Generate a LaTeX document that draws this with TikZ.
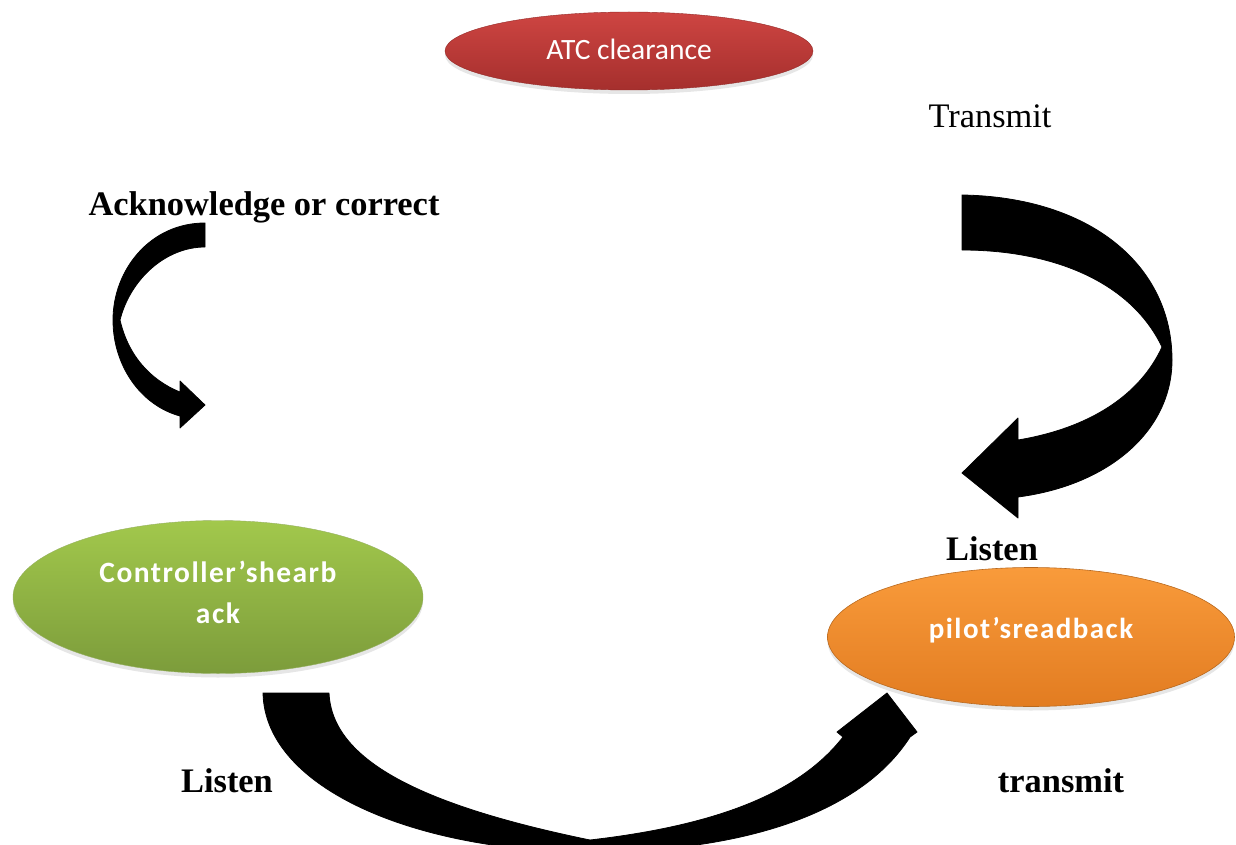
\documentclass[tikz,border=0pt]{standalone}
\usepackage{fontspec}
\setmainfont{Liberation Serif}
\newfontfamily\calib{Carlito}
\newfontfamily\calibsp[LetterSpace=5]{Carlito}
\usetikzlibrary{shapes.geometric,shadows}
\definecolor{redtop}{HTML}{CE4542}
\definecolor{redbot}{HTML}{A52F2D}
\definecolor{grntop}{HTML}{A2C84C}
\definecolor{grnbot}{HTML}{7C9C3B}
\definecolor{ortop}{HTML}{F99B3B}
\definecolor{orbot}{HTML}{E27C21}
\definecolor{orline}{HTML}{B8691F}
\begin{document}
\begin{tikzpicture}[x=1pt,y=-1pt,
  lbl/.style={font=\fontsize{34.4}{40}\selectfont\bfseries, inner sep=0, anchor=base},
  bub/.style={ellipse, inner sep=0, drop shadow={opacity=0.2, shadow xshift=0pt, shadow yshift=-4pt}},
  bubtxt/.style={text=white, inner sep=0, anchor=base, align=center},
  blk/.style={fill=black, draw=black, line width=0.8pt, line join=round}]
\useasboundingbox (0,0) rectangle (1236,845);

% ellipses
\node[bub, top color=redtop, bottom color=redbot, draw=redbot!90!black, line width=0.4pt,
      minimum width=368pt, minimum height=78pt] (atc) at (629,51) {};
\node[bubtxt, font=\calib\fontsize{29.5}{34}\selectfont] (atctxt) at (629,60) {ATC clearance};

\node[bub, top color=grntop, bottom color=grnbot, draw=grnbot!80!white, line width=0.4pt,
      minimum width=410pt, minimum height=153pt] (ctrl) at (218,597) {};
\node[bubtxt, font=\calibsp\bfseries\fontsize{29.5}{41}\selectfont] (ctrltxt) at (218,623) {Controller’shearb\\ack};

\node[bub, top color=ortop, bottom color=orbot, draw=orline, line width=0.6pt,
      minimum width=407pt, minimum height=139pt] (pilot) at (1031,637) {};
\node[bubtxt, font=\calibsp\bfseries\fontsize{29}{34}\selectfont] (pilottxt) at (1031,638) {pilot’sreadback};

% labels
\node[lbl] (ack) at (264,215) {Acknowledge or correct};
\node[lbl, font=\fontsize{34.4}{40}\selectfont] (transmitTop) at (990,128) {Transmit};
\node[lbl] (listenR) at (992,560) {Listen};
\node[lbl] (listenL) at (227,792) {Listen};
\node[lbl] (transmitBot) at (1061,792) {transmit};

% right curved block arrow
\filldraw[blk] (962,195) .. controls (1090,197) and (1172,265) .. (1172,360)
  .. controls (1172,430) and (1110,485) .. (1018,497)
  -- (1018,518) -- (962,473) -- (1018,418) -- (1018,440)
  .. controls (1090,428) and (1140,395) .. (1162,347)
  .. controls (1130,280) and (1050,250) .. (962,250) -- cycle;

% left curved block arrow
\filldraw[blk] (205,223) .. controls (150,223) and (113,270) .. (113,320)
  .. controls (113,365) and (140,405) .. (180,416)
  -- (180,428) -- (205,405) -- (180,381) -- (180,392)
  .. controls (150,380) and (128,355) .. (120,320)
  .. controls (130,280) and (165,247) .. (205,247) -- cycle;

% bottom curved block arrow
\filldraw[blk] (263,693) .. controls (265,790) and (420,852) .. (590,852)
  .. controls (740,852) and (860,815) .. (910,737)
  -- (917,732) -- (887,693) -- (837,732) -- (843,737)
  .. controls (800,792) and (720,825) .. (590,840)
  .. controls (420,805) and (332,760) .. (329,693) -- cycle;
\end{tikzpicture}
\end{document}
